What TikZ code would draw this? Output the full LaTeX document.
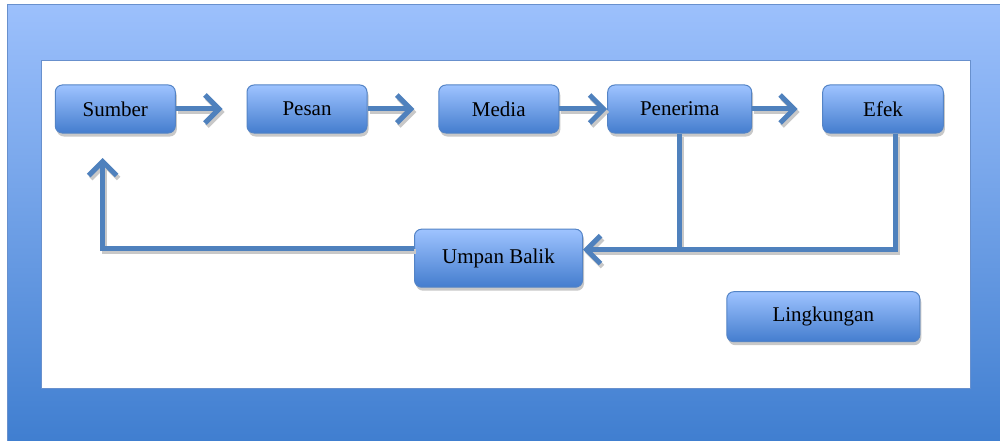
\documentclass[tikz,border=0pt]{standalone}
\usepackage{fontspec}
\setmainfont{Liberation Serif}
\newfontfamily\boxfont{Liberation Serif}
\usetikzlibrary{arrows.meta,shadows,calc}
\definecolor{boxtop}{RGB}{158,195,255}
\definecolor{boxbot}{RGB}{68,125,206}
\definecolor{boxline}{RGB}{84,132,198}
\definecolor{conncol}{RGB}{79,129,189}
\definecolor{frametop}{RGB}{156,192,252}
\definecolor{framebot}{RGB}{62,125,207}
\definecolor{frameline}{RGB}{104,144,205}
\definecolor{shadowgray}{RGB}{200,200,200}
\newcommand\dblconn[2]{\draw[#1,shd] #2; \draw[#1] #2;}
\begin{document}
\begin{tikzpicture}[x=1pt,y=-1pt,
  box/.style={draw=boxline, line width=1pt, rounded corners=7pt, top color=boxtop, bottom color=boxbot,
    minimum height=48pt, inner sep=0pt, font=\boxfont\fontsize{21}{25}\selectfont,
    drop shadow={shadow xshift=1.5pt, shadow yshift=-3.5pt, fill=shadowgray, opacity=1}},
  conn/.style={draw=conncol, line width=5pt, -{Straight Barb[length=14pt,width=28pt]}},
  plain/.style={draw=conncol, line width=5pt},
  shd/.style={draw=shadowgray, transform canvas={shift={(2pt,-3pt)}}}
]
\useasboundingbox (0,0) rectangle (1000,441);
\fill[top color=frametop, bottom color=framebot] (7,5) rectangle (1010,450);
\draw[frameline, line width=1pt] (7,450) -- (7,5) -- (1010,5);
\filldraw[fill=white, draw=frameline, line width=1pt] (41,61) rectangle (970,388);

\node[box, minimum width=120pt] (sumber) at (115.3,109) {Sumber};
\node[box, minimum width=120pt] (pesan) at (307,109) {Pesan};
\node[box, minimum width=120pt] (media) at (498.8,109) {Media};
\node[box, minimum width=144pt] (penerima) at (679.7,109) {Penerima};
\node[box, minimum width=120.6pt] (efek) at (883,109) {Efek};
\node[box, minimum width=168pt, minimum height=58pt] (umpan) at (498.5,258.2) {Umpan Balik};
\node[box, minimum width=193pt, minimum height=50pt] (lingkungan) at (823.3,316.7) {Lingkungan};

\coordinate (fb) at ($(umpan.east)+(0,-8.5)$);
\coordinate (ef) at ($(efek.south)+(12,0)$);
\coordinate (s1) at ($(sumber.south)+(-12.6,24.5)$);
\coordinate (t1) at ($(pesan.west)+(-24,0)$);
\coordinate (t2) at ($(media.west)+(-24,0)$);
\coordinate (t4) at ($(efek.west)+(-24.5,0)$);
\coordinate (ul) at ($(umpan.west)+(0,-10)$);

\dblconn{conn}{(sumber.east) -- (t1)}
\dblconn{conn}{(pesan.east) -- (t2)}
\dblconn{conn}{(media.east) -- (penerima.west)}
\dblconn{conn}{(penerima.east) -- (t4)}
\dblconn{plain}{(penerima.south) -- (penerima.south |- fb)}
\dblconn{conn}{(ef) |- (fb)}
\dblconn{conn}{(ul) -| (s1)}
\end{tikzpicture}
\end{document}
